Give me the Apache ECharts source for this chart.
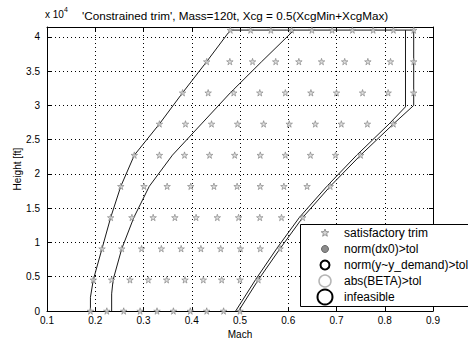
<!DOCTYPE html>
<html>
<head>
<meta charset="utf-8">
<script src="https://cdn.jsdelivr.net/npm/echarts@6/dist/echarts.min.js"></script>
<style>
  html, body { margin: 0; padding: 0; background: #fff; }
  #chart { width: 468px; height: 340px; }
</style>
</head>
<body>
<div id="chart"></div>
<script>
// altitude rows of the trim grid [ft]
const heights = [0, 4550, 9100, 13650, 18200, 22750, 27300, 31850, 36400, 41000];

// Mach of each trim point, one list per altitude row
const machRows = [
  [0.190, 0.224, 0.259, 0.293, 0.328, 0.362, 0.397, 0.431, 0.466, 0.500],
  [0.196, 0.234, 0.272, 0.310, 0.348, 0.386, 0.424, 0.462, 0.500, 0.538],
  [0.214, 0.255, 0.296, 0.337, 0.378, 0.419, 0.460, 0.501, 0.542, 0.583],
  [0.232, 0.276, 0.320, 0.365, 0.409, 0.453, 0.497, 0.541, 0.586, 0.630],
  [0.253, 0.301, 0.349, 0.398, 0.446, 0.494, 0.542, 0.591, 0.639, 0.687],
  [0.281, 0.333, 0.385, 0.437, 0.489, 0.542, 0.594, 0.646, 0.698, 0.750],
  [0.333, 0.387, 0.441, 0.495, 0.549, 0.602, 0.656, 0.710, 0.764, 0.818],
  [0.381, 0.434, 0.487, 0.541, 0.594, 0.647, 0.700, 0.754, 0.807, 0.860],
  [0.431, 0.479, 0.526, 0.574, 0.622, 0.669, 0.717, 0.765, 0.812, 0.860],
  [0.480, 0.522, 0.564, 0.607, 0.649, 0.691, 0.733, 0.776, 0.818, 0.860]
];

// envelope outlines [Mach, ft]
const outerEnvelope = [
  [0.190, 0], [0.190, 2000], [0.196, 4550], [0.214, 9100], [0.232, 13650],
  [0.253, 18200], [0.281, 22750], [0.333, 27300], [0.381, 31850], [0.431, 36400],
  [0.480, 41000], [0.860, 41000], [0.860, 30000], [0.818, 27300], [0.750, 22750],
  [0.687, 18200], [0.630, 13650], [0.583, 9100], [0.538, 4550], [0.497, 0]
];
const innerLeft = [
  [0.234, 0], [0.234, 2500], [0.237, 4550], [0.255, 9100], [0.280, 13650],
  [0.312, 18200], [0.360, 22750], [0.420, 27300], [0.480, 31850], [0.545, 36400],
  [0.612, 41000]
];
const innerRight = [
  [0.843, 41000], [0.843, 29800], [0.809, 27300], [0.742, 22750], [0.680, 18200],
  [0.623, 13650], [0.576, 9100], [0.532, 4550], [0.491, 0]
];

const xTicks = { min: 0.1, max: 0.9, step: 0.1 };
const yTicks = { min: 0, max: 41450, step: 5000 };

const legendNames = ['satisfactory trim', 'norm(dx0)>tol', 'norm(y~y_demand)>tol', 'abs(BETA)>tol', 'infeasible'];

const font = 'Liberation Sans, Arial, Helvetica, sans-serif';
const starPath = 'path://M50,0 L61,35 L98,35 L68,57 L79,91 L50,70 L21,91 L32,57 L2,35 L39,35 Z';

const trimPoints = [];
machRows.forEach((row, i) => row.forEach(m => trimPoints.push([m, heights[i]])));

// little five point star for the legend key
function starPoints(cx, cy, R, r) {
  const pts = [];
  for (let k = 0; k < 10; k++) {
    const a = (-90 + k * 36) * Math.PI / 180;
    const rad = k % 2 ? r : R;
    pts.push([cx + rad * Math.cos(a), cy + rad * Math.sin(a)]);
  }
  return pts;
}

const chart = echarts.init(document.getElementById('chart'), null, { renderer: 'svg' });

function boxAxis(base, extra) {
  return Object.assign({
    type: 'value',
    min: base.min,
    max: base.max,
    interval: base.step,
    axisLine: { show: true, onZero: false, lineStyle: { color: '#000', width: 1 } },
    axisTick: { show: true, inside: true, length: 4, lineStyle: { color: '#000' } },
    axisLabel: { show: false },
    splitLine: { show: false }
  }, extra);
}

function outline(name, data) {
  return {
    name: name,
    type: 'line',
    data: data,
    symbol: 'none',
    silent: true,
    lineStyle: { color: '#1a1a1a', width: 1 },
    z: 3
  };
}

const option = {
  animation: false,
  backgroundColor: '#fff',
  textStyle: { fontFamily: font },
  title: {
    text: "'Constrained trim', Mass=120t, Xcg = 0.5(XcgMin+XcgMax)",
    left: 77,
    top: 4,
    textStyle: { fontSize: 11.7, fontWeight: 'normal', color: '#000', fontFamily: font }
  },
  grid: { left: 47, right: 35, top: 27, bottom: 29, outerBoundsMode: 'none', containLabel: false },
  xAxis: [
    boxAxis(xTicks, {
      position: 'bottom',
      name: 'Mach',
      nameLocation: 'middle',
      nameGap: 15,
      nameTextStyle: { fontSize: 10, color: '#000' },
      axisLabel: { show: true, fontSize: 10, color: '#000', margin: 4 },
      splitLine: { show: true, lineStyle: { color: '#000', width: 1, type: [1, 3] } }
    }),
    boxAxis(xTicks, { position: 'top' })
  ],
  yAxis: [
    boxAxis(yTicks, {
      position: 'left',
      name: 'Height [ft]',
      nameLocation: 'middle',
      nameGap: 25,
      nameMoveOverlap: false,
      nameTextStyle: { fontSize: 10, color: '#000' },
      axisLabel: {
        show: true, fontSize: 10, color: '#000', margin: 7, showMaxLabel: false,
        formatter: v => String(v / 10000)
      },
      splitLine: { show: true, lineStyle: { color: '#000', width: 1, type: [1, 3] } }
    }),
    boxAxis(yTicks, { position: 'right' })
  ],
  series: [
    outline('envelope', outerEnvelope),
    outline('inner left', innerLeft),
    outline('inner right', innerRight),
    {
      name: legendNames[0],
      type: 'scatter',
      data: trimPoints,
      symbol: starPath,
      symbolSize: 6.5,
      itemStyle: { color: '#d4d4d4', borderColor: '#808080', borderWidth: 0.8 },
      z: 4
    }
  ],
  graphic: [
    {
      type: 'text', left: 45, top: 9,
      style: { text: 'x 10', fontSize: 10, fill: '#000', fontFamily: font }
    },
    {
      type: 'text', left: 64, top: 6,
      style: { text: '4', fontSize: 7, fill: '#000', fontFamily: font }
    },
    {
      type: 'rect', left: 300, top: 224, z: 10,
      shape: { x: 0, y: 0, width: 175, height: 82 },
      style: { fill: '#fff', stroke: '#000', lineWidth: 1 }
    },
    {
      type: 'polygon', z: 11,
      shape: { points: starPoints(325, 233, 4, 1.7) },
      style: { fill: '#d4d4d4', stroke: '#808080', lineWidth: 0.8 }
    },
    { type: 'circle', z: 11, shape: { cx: 325, cy: 249, r: 3.5 },
      style: { fill: '#8c8c8c', stroke: '#666', lineWidth: 1 } },
    { type: 'circle', z: 11, shape: { cx: 325, cy: 265, r: 4.5 },
      style: { fill: 'none', stroke: '#000', lineWidth: 2 } },
    { type: 'circle', z: 11, shape: { cx: 325, cy: 281, r: 6 },
      style: { fill: 'none', stroke: '#b5b5b5', lineWidth: 1.5 } },
    { type: 'circle', z: 11, shape: { cx: 325, cy: 297, r: 7.5 },
      style: { fill: 'none', stroke: '#000', lineWidth: 2 } }
  ].concat(legendNames.map((n, i) => ({
    type: 'text', z: 11, x: 344, y: 233 + i * 16,
    style: { text: n, fontSize: 12, fill: '#000', fontFamily: font, verticalAlign: 'middle' }
  })))
};

chart.setOption(option);
</script>
</body>
</html>
